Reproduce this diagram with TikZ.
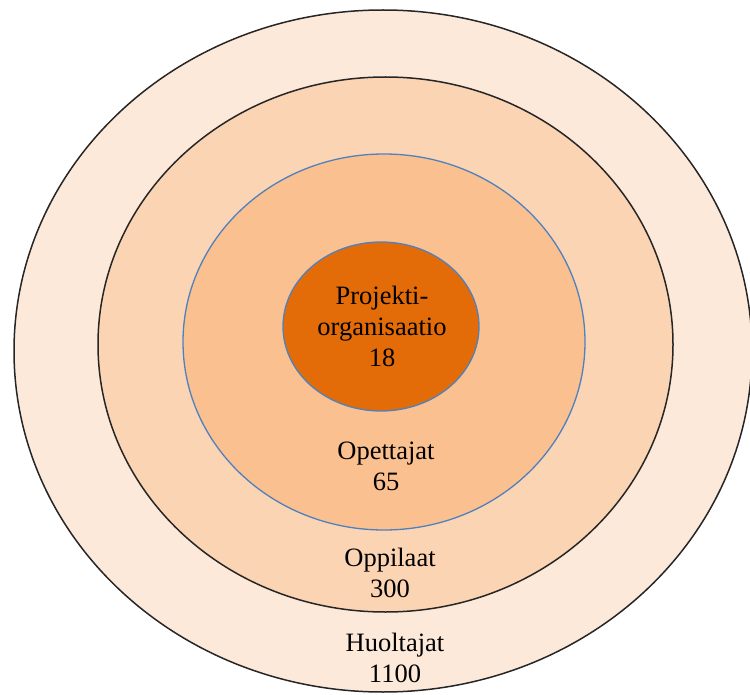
\documentclass[tikz,border=0pt]{standalone}
\usepackage{fontspec}
\setmainfont{Liberation Serif}
\usepackage{xcolor}
\definecolor{huoltajacol}{HTML}{FDE9D9}
\definecolor{oppilascol}{HTML}{FBD4B4}
\definecolor{opettajacol}{HTML}{FAC08F}
\definecolor{projektcol}{HTML}{E36C09}
\definecolor{ringblue}{HTML}{4F81BD}

\begin{document}
\begin{tikzpicture}[x=1pt,y=-1pt,
		black ring/.style={draw=black!85,line width=1.5pt},
		blue ring/.style={draw=ringblue,line width=1.3pt},
		group text/.style={align=center,anchor=base,font=\fontsize{26.5}{31}\selectfont}]
		
		\useasboundingbox (0,0) rectangle (750,695);
		
		\filldraw[black ring,fill=huoltajacol] (383,351) ellipse [x radius=369,y radius=341];
		\filldraw[black ring,fill=oppilascol] (385.5,344.5) ellipse [x radius=287.5,y radius=267.5];
		\filldraw[blue ring,fill=opettajacol] (384,342) ellipse [x radius=201,y radius=188];
		\filldraw[blue ring,fill=projektcol] (381,326.5) ellipse [x radius=98,y radius=84.5];
		
		\node[group text] (projekti) at (382,366) {Projekti-\\organisaatio\\18};
		\node[group text] (opettajat) at (386,490) {Opettajat\\65};
		\node[group text] (oppilaat) at (390,597) {Oppilaat\\300};
		\node[group text] (huoltajat) at (395,682) {Huoltajat\\1100};
\end{tikzpicture}
\end{document}
